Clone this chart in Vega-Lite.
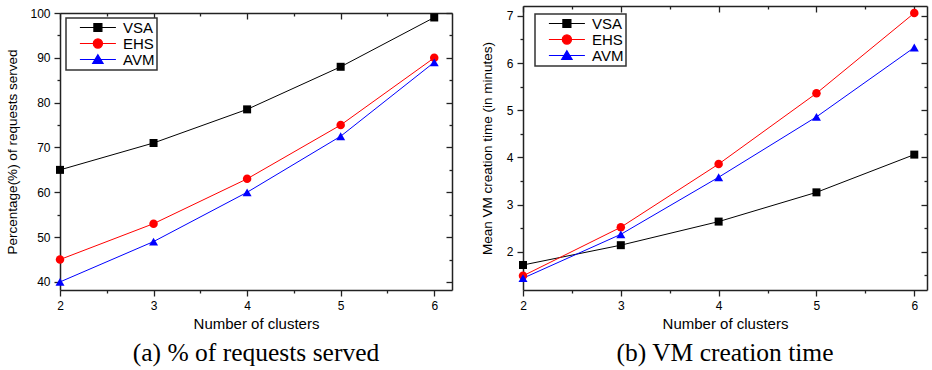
{
  "$schema": "https://vega.github.io/schema/vega-lite/v6.json",
  "padding": {"left": 5, "top": 5, "right": 4, "bottom": 0},
  "spacing": 27,
  "datasets": {
    "a": [
      {"series": "VSA", "clusters": 2, "value": 65},
      {"series": "VSA", "clusters": 3, "value": 71},
      {"series": "VSA", "clusters": 4, "value": 78.5},
      {"series": "VSA", "clusters": 5, "value": 88},
      {"series": "VSA", "clusters": 6, "value": 99},
      {"series": "EHS", "clusters": 2, "value": 45},
      {"series": "EHS", "clusters": 3, "value": 53},
      {"series": "EHS", "clusters": 4, "value": 63},
      {"series": "EHS", "clusters": 5, "value": 75},
      {"series": "EHS", "clusters": 6, "value": 90},
      {"series": "AVM", "clusters": 2, "value": 40},
      {"series": "AVM", "clusters": 3, "value": 49},
      {"series": "AVM", "clusters": 4, "value": 60},
      {"series": "AVM", "clusters": 5, "value": 72.5},
      {"series": "AVM", "clusters": 6, "value": 89}
    ],
    "b": [
      {"series": "VSA", "clusters": 2, "value": 1.72},
      {"series": "VSA", "clusters": 3, "value": 2.14},
      {"series": "VSA", "clusters": 4, "value": 2.64},
      {"series": "VSA", "clusters": 5, "value": 3.26},
      {"series": "VSA", "clusters": 6, "value": 4.06},
      {"series": "EHS", "clusters": 2, "value": 1.49},
      {"series": "EHS", "clusters": 3, "value": 2.52},
      {"series": "EHS", "clusters": 4, "value": 3.86},
      {"series": "EHS", "clusters": 5, "value": 5.36},
      {"series": "EHS", "clusters": 6, "value": 7.06},
      {"series": "AVM", "clusters": 2, "value": 1.44},
      {"series": "AVM", "clusters": 3, "value": 2.37},
      {"series": "AVM", "clusters": 4, "value": 3.58},
      {"series": "AVM", "clusters": 5, "value": 4.86},
      {"series": "AVM", "clusters": 6, "value": 6.33}
    ]
  },
  "hconcat": [
    {
      "spacing": 0,
      "vconcat": [
        {
          "width": 392,
          "height": 1,
          "data": {"values": []},
          "mark": "point",
          "encoding": {}
        },
        {
          "width": 392,
          "height": 277,
          "data": {"name": "a"},
          "title": {"text": "(a) % of requests served", "orient": "bottom", "anchor": "middle", "frame": "group", "font": "Liberation Serif", "fontSize": 25.5, "fontWeight": "normal", "color": "#000", "offset": 10},
          "layer": [
            {
              "mark": {"type": "line", "strokeWidth": 1},
              "encoding": {
                "x": {"field": "clusters", "type": "quantitative", "scale": {"domain": [2, 6.19], "nice": false, "zero": false},
                  "axis": {"orient": "bottom", "values": [2, 2.5, 3, 3.5, 4, 4.5, 5, 5.5, 6], "labelExpr": "datum.value % 1 === 0 ? format(datum.value, 'd') : ''",
                    "tickSize": {"condition": {"test": "datum.value % 1 === 0", "value": 6}, "value": 3},
                    "title": "Number of clusters", "titleFontSize": 15, "titlePadding": 5, "labelPadding": 4}},
                "y": {"field": "value", "type": "quantitative", "scale": {"domain": [38.2, 100], "nice": false, "zero": false},
                  "axis": {"orient": "left", "values": [40, 45, 50, 55, 60, 65, 70, 75, 80, 85, 90, 95, 100], "labelExpr": "datum.value % 10 === 0 ? format(datum.value, 'd') : ''",
                    "tickSize": {"condition": {"test": "datum.value % 10 === 0", "value": 6}, "value": 3},
                    "title": "Percentage(%) of requests served", "titleFontSize": 13.5, "titlePadding": 10, "labelPadding": 4,
                    "encode": {"title": {"update": {"y": {"value": 148}}}}}},
                "color": {"field": "series", "type": "nominal", "scale": {"domain": ["VSA", "EHS", "AVM"], "range": ["#000000", "#ff0000", "#0000ff"]}, "legend": null}
              }
            },
            {
              "mark": {"type": "point", "filled": true, "opacity": 1},
              "encoding": {
                "x": {"field": "clusters", "type": "quantitative", "scale": {"domain": [2, 6.19], "nice": false, "zero": false},
                  "axis": {"orient": "top", "values": [2, 2.5, 3, 3.5, 4, 4.5, 5, 5.5, 6], "labels": false,
                    "tickSize": {"condition": {"test": "datum.value % 1 === 0", "value": -6}, "value": -3}, "title": null}},
                "y": {"field": "value", "type": "quantitative", "scale": {"domain": [38.2, 100], "nice": false, "zero": false},
                  "axis": {"orient": "right", "values": [40, 45, 50, 55, 60, 65, 70, 75, 80, 85, 90, 95, 100], "labels": false,
                    "tickSize": {"condition": {"test": "datum.value % 10 === 0", "value": -6}, "value": -3}, "title": null}},
                "color": {"field": "series", "type": "nominal", "scale": {"domain": ["VSA", "EHS", "AVM"], "range": ["#000000", "#ff0000", "#0000ff"]}, "legend": null},
                "shape": {"field": "series", "type": "nominal", "scale": {"domain": ["VSA", "EHS", "AVM"], "range": ["square", "circle", "triangle-up"]}, "legend": null},
                "size": {"field": "series", "type": "nominal", "scale": {"domain": ["VSA", "EHS", "AVM"], "range": [64, 81, 90]}, "legend": null}
              }
            },
            {
              "transform": [{"filter": {"field": "series", "equal": "none"}}],
              "mark": {"type": "point", "filled": true, "opacity": 1},
              "encoding": {
                "fill": {"field": "series", "type": "nominal", "scale": {"domain": ["VSA", "EHS", "AVM"], "range": ["#000000", "#ff0000", "#0000ff"]}, "legend": {"title": null, "orient": "none", "legendX": 6, "legendY": 5}},
                "stroke": {"field": "series", "type": "nominal", "scale": {"domain": ["VSA", "EHS", "AVM"], "range": ["#000000", "#ff0000", "#0000ff"]}, "legend": {"title": null, "orient": "none", "legendX": 6, "legendY": 5}},
                "shape": {"field": "series", "type": "nominal", "scale": {"domain": ["VSA", "EHS", "AVM"], "range": ["M1.1,0H10.1M4.6,-1H6.6V1H4.6Z", "M1.1,0H10.1M4.45,0A1.15,1.15,0,1,0,6.75,0A1.15,1.15,0,1,0,4.45,0Z", "M1.1,0H10.1M5.6,-1.2L6.9,1H4.3Z"]}, "legend": {"title": null, "orient": "none", "legendX": 6, "legendY": 5}}
              }
            }
          ],
          "resolve": {"axis": {"x": "independent", "y": "independent"}, "scale": {"shape": "independent", "fill": "independent", "stroke": "independent", "size": "independent"}}
        }
      ]
    },
    {
      "width": 404,
      "height": 284,
      "data": {"name": "b"},
      "title": {"text": "(b) VM creation time", "orient": "bottom", "anchor": "middle", "frame": "group", "font": "Liberation Serif", "fontSize": 25.5, "fontWeight": "normal", "color": "#000", "offset": 10},
      "layer": [
        {
          "mark": {"type": "line", "strokeWidth": 1},
          "encoding": {
            "x": {"field": "clusters", "type": "quantitative", "scale": {"domain": [2, 6.13], "nice": false, "zero": false},
              "axis": {"orient": "bottom", "values": [2, 2.5, 3, 3.5, 4, 4.5, 5, 5.5, 6], "labelExpr": "datum.value % 1 === 0 ? format(datum.value, 'd') : ''",
                "tickSize": {"condition": {"test": "datum.value % 1 === 0", "value": 6}, "value": 3},
                "title": "Number of clusters", "titleFontSize": 15, "titlePadding": 5, "labelPadding": 4}},
            "y": {"field": "value", "type": "quantitative", "scale": {"domain": [1.19, 7.21], "nice": false, "zero": false},
              "axis": {"orient": "left", "values": [1.5, 2, 2.5, 3, 3.5, 4, 4.5, 5, 5.5, 6, 6.5, 7], "labelExpr": "datum.value % 1 === 0 ? format(datum.value, 'd') : ''",
                "tickSize": {"condition": {"test": "datum.value % 1 === 0", "value": 6}, "value": 3},
                "title": "Mean VM creation time (in minutes)", "titleFontSize": 13.5, "titlePadding": 12, "labelPadding": 4,
                "encode": {"title": {"update": {"y": {"value": 151}}}}}},
            "color": {"field": "series", "type": "nominal", "scale": {"domain": ["VSA", "EHS", "AVM"], "range": ["#000000", "#ff0000", "#0000ff"]}, "legend": null}
          }
        },
        {
          "mark": {"type": "point", "filled": true, "opacity": 1},
          "encoding": {
            "x": {"field": "clusters", "type": "quantitative", "scale": {"domain": [2, 6.13], "nice": false, "zero": false},
              "axis": {"orient": "top", "values": [2, 2.5, 3, 3.5, 4, 4.5, 5, 5.5, 6], "labels": false,
                "tickSize": {"condition": {"test": "datum.value % 1 === 0", "value": -6}, "value": -3}, "title": null}},
            "y": {"field": "value", "type": "quantitative", "scale": {"domain": [1.19, 7.21], "nice": false, "zero": false},
              "axis": {"orient": "right", "values": [1.5, 2, 2.5, 3, 3.5, 4, 4.5, 5, 5.5, 6, 6.5, 7], "labels": false,
                "tickSize": {"condition": {"test": "datum.value % 1 === 0", "value": -6}, "value": -3}, "title": null}},
            "color": {"field": "series", "type": "nominal", "scale": {"domain": ["VSA", "EHS", "AVM"], "range": ["#000000", "#ff0000", "#0000ff"]}, "legend": null},
            "shape": {"field": "series", "type": "nominal", "scale": {"domain": ["VSA", "EHS", "AVM"], "range": ["square", "circle", "triangle-up"]}, "legend": null},
            "size": {"field": "series", "type": "nominal", "scale": {"domain": ["VSA", "EHS", "AVM"], "range": [64, 81, 90]}, "legend": null}
          }
        },
        {
          "transform": [{"filter": {"field": "series", "equal": "none"}}],
          "mark": {"type": "point", "filled": true, "opacity": 1},
          "encoding": {
            "fill": {"field": "series", "type": "nominal", "scale": {"domain": ["VSA", "EHS", "AVM"], "range": ["#000000", "#ff0000", "#0000ff"]}, "legend": {"title": null, "orient": "none", "legendX": 12, "legendY": 8}},
            "stroke": {"field": "series", "type": "nominal", "scale": {"domain": ["VSA", "EHS", "AVM"], "range": ["#000000", "#ff0000", "#0000ff"]}, "legend": {"title": null, "orient": "none", "legendX": 12, "legendY": 8}},
            "shape": {"field": "series", "type": "nominal", "scale": {"domain": ["VSA", "EHS", "AVM"], "range": ["M1.1,0H10.1M4.6,-1H6.6V1H4.6Z", "M1.1,0H10.1M4.45,0A1.15,1.15,0,1,0,6.75,0A1.15,1.15,0,1,0,4.45,0Z", "M1.1,0H10.1M5.6,-1.2L6.9,1H4.3Z"]}, "legend": {"title": null, "orient": "none", "legendX": 12, "legendY": 8}}
          }
        }
      ],
      "resolve": {"axis": {"x": "independent", "y": "independent"}, "scale": {"shape": "independent", "fill": "independent", "stroke": "independent", "size": "independent"}}
    }
  ],
  "config": {
    "font": "Liberation Sans",
    "view": {"stroke": null},
    "axis": {"domainColor": "#222", "domainWidth": 1.5, "tickColor": "#222", "tickWidth": 1.3, "labelFont": "Liberation Sans", "labelFontSize": 12, "labelColor": "#000", "titleFont": "Liberation Sans", "titleFontWeight": "normal", "titleColor": "#000", "grid": false, "labelFlush": false, "labelOverlap": false},
    "legend": {"padding": 2, "strokeColor": "#333", "strokeWidth": 1.5, "fillColor": "#ffffff", "labelFont": "Liberation Sans", "labelFontSize": 15, "labelColor": "#000", "labelOffset": 40, "symbolSize": 64, "symbolStrokeWidth": 1.2, "rowPadding": 0}
  }
}
